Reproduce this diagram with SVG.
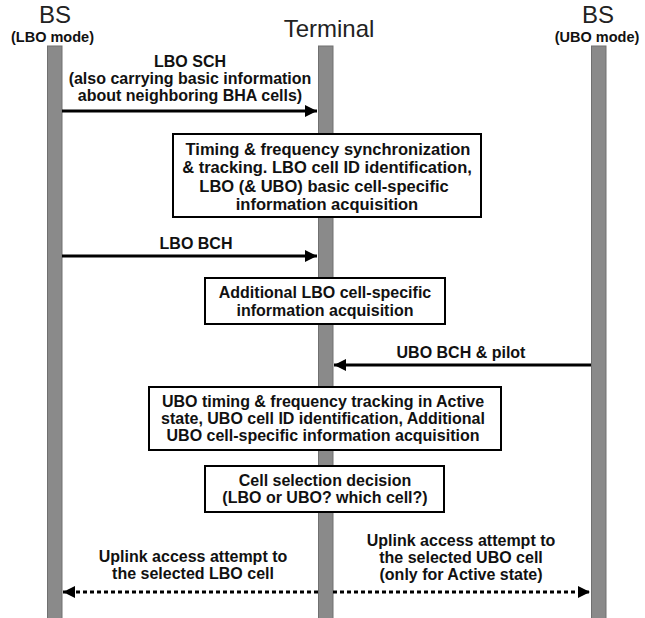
<svg xmlns="http://www.w3.org/2000/svg" width="645" height="618" viewBox="0 0 645 618">
<style>
.bar{fill:#8a8a8a;stroke:#707070;stroke-width:1}
.box{fill:#fff;stroke:#000;stroke-width:2}
.t{font-family:"Liberation Sans",Arial,sans-serif;font-weight:bold;font-size:16px;fill:#111;text-anchor:middle}
.b1{font-size:16.5px}
.h{font-family:"Liberation Sans",Arial,sans-serif;font-size:24px;fill:#222;text-anchor:middle}
.hs{font-family:"Liberation Sans",Arial,sans-serif;font-weight:bold;font-size:14.5px;fill:#111;text-anchor:middle}
.ln{stroke:#000;stroke-width:3;fill:none}
.dl{stroke:#000;stroke-width:3;fill:none;stroke-dasharray:4 3}
</style>
<defs>
<marker id="ah" viewBox="0 0 10 10" refX="10" refY="5" markerWidth="5" markerHeight="4" orient="auto" markerUnits="strokeWidth">
<path d="M0,0 L10,5 L0,10 z" fill="#000"/>
</marker>
</defs>
<g id="bs-lbo">
<rect class="bar" x="47.5" y="46" width="14.5" height="580"/>
<text class="h" x="55" y="23">BS</text>
<text class="hs" x="52.5" y="42">(LBO mode)</text>
</g>
<g id="terminal">
<rect class="bar" x="318.5" y="46" width="14.5" height="580"/>
<text class="h" x="329" y="37">Terminal</text>
</g>
<g id="bs-ubo">
<rect class="bar" x="591.5" y="46" width="14.5" height="580"/>
<text class="h" x="598" y="23">BS</text>
<text class="hs" x="597" y="42">(UBO mode)</text>
</g>
<g id="connectors">
<line class="ln" x1="62" y1="111" x2="317" y2="111" marker-end="url(#ah)"/>
<line class="ln" x1="62" y1="256" x2="317" y2="256" marker-end="url(#ah)"/>
<line class="ln" x1="591" y1="365" x2="334" y2="365" marker-end="url(#ah)"/>
<line class="dl" x1="318" y1="592" x2="63" y2="592" marker-end="url(#ah)"/>
<line class="dl" x1="333" y1="592" x2="590" y2="592" marker-end="url(#ah)"/>
<text class="t" x="190" y="67">LBO SCH</text>
<text class="t" x="190" y="84">(also carrying basic information</text>
<text class="t" x="190" y="101">about neighboring BHA cells)</text>
<text class="t" x="196" y="249">LBO BCH</text>
<text class="t" x="461" y="358">UBO BCH &amp; pilot</text>
<text class="t" x="193" y="562">Uplink access attempt to</text>
<text class="t" x="193" y="579">the selected  LBO cell</text>
<text class="t" x="461" y="546">Uplink access attempt to</text>
<text class="t" x="461" y="563">the selected UBO cell</text>
<text class="t" x="461" y="580">(only for Active state)</text>
</g>
<g id="box1">
<rect class="box" x="173" y="134" width="308" height="83"/>
<text class="t b1" x="328" y="155">Timing &amp; frequency synchronization</text>
<text class="t b1" x="327" y="173">&amp; tracking. LBO cell ID identification,</text>
<text class="t b1" x="324" y="192">LBO (&amp; UBO) basic cell-specific</text>
<text class="t b1" x="327" y="210">information acquisition</text>
</g>
<g id="box2">
<rect class="box" x="205" y="278" width="240" height="46"/>
<text class="t" x="325" y="298">Additional LBO cell-specific</text>
<text class="t" x="325" y="316">information acquisition</text>
</g>
<g id="box3">
<rect class="box" x="149" y="387" width="352" height="63"/>
<text class="t" x="323" y="407">UBO timing &amp; frequency tracking in Active</text>
<text class="t" x="323" y="424">state, UBO cell ID identification, Additional</text>
<text class="t" x="323" y="441">UBO cell-specific information acquisition</text>
</g>
<g id="box4">
<rect class="box" x="205" y="466" width="239" height="46"/>
<text class="t" x="325" y="486">Cell selection decision</text>
<text class="t" x="325" y="503">(LBO or UBO? which cell?)</text>
</g>
</svg>
